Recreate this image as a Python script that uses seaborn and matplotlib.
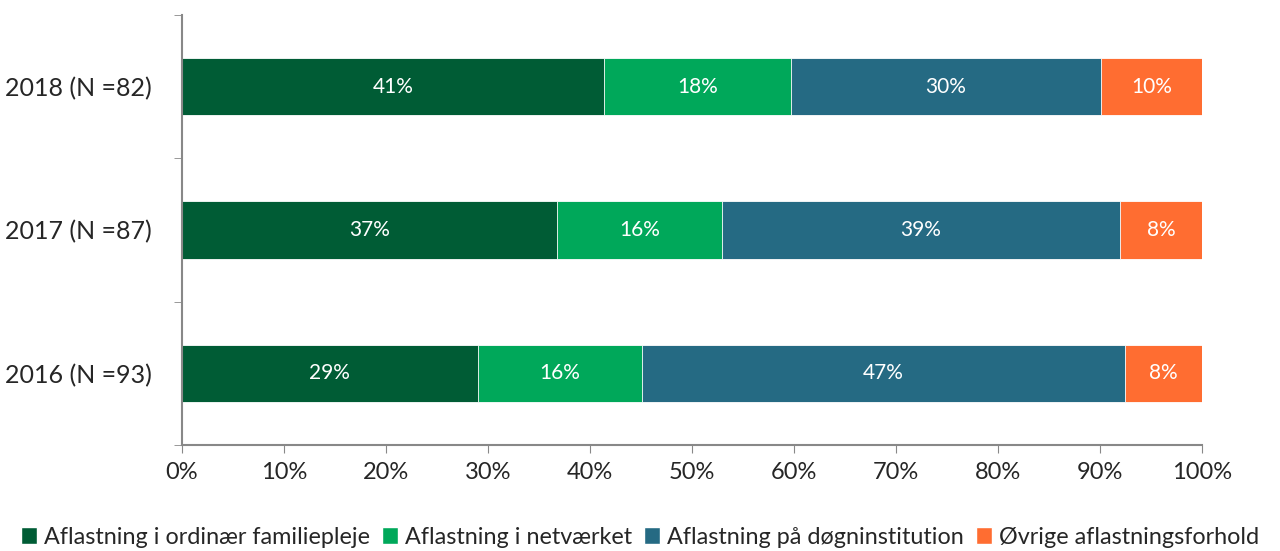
import numpy as np
import pandas as pd
import matplotlib
matplotlib.use('Agg')
import matplotlib.pyplot as plt
from matplotlib.patches import Patch
import seaborn as sns

# data (percent)
years = ['2018 (N =82)', '2017 (N =87)', '2016 (N =93)']
series = ['Aflastning i ordinær familiepleje', 'Aflastning i netværket',
          'Aflastning på døgninstitution', 'Øvrige aflastningsforhold']
familiepleje = [41.4, 36.8, 29.0]
netvaerket = [18.3, 16.1, 16.1]
doegninst = [30.4, 39.1, 47.3]
oevrige = [9.9, 8.0, 7.6]
colors = ['#005c35', '#00a85a', '#256a83', '#ff6d31']

sns.set_style('white')
plt.rcParams['font.family'] = ['Lato', 'DejaVu Sans']

df = pd.DataFrame({'year': years, series[0]: familiepleje, series[1]: netvaerket,
                   series[2]: doegninst, series[3]: oevrige})
vals = df[series].values
cum = vals.cumsum(axis=1)

fig = plt.figure(figsize=(12.8, 5.51), dpi=100)
ax = fig.add_axes([0.1422, 0.1924, 0.7969, 0.7804])

# stacked bars: draw cumulative totals, largest first
for i in range(len(series) - 1, -1, -1):
    sns.barplot(x=cum[:, i], y=years, order=years, color=colors[i], width=0.4,
                orient='h', ax=ax, saturation=1, edgecolor='white', linewidth=0.6)

# labels in segments
for r in range(len(years)):
    left = 0
    for i in range(len(series)):
        v = vals[r, i]
        ax.text(left + v / 2, r, f'{v:.0f}%', ha='center', va='center',
                color='white', fontsize=15)
        left += v

ax.set_xlim(0, 100)
ax.set_ylim(2.5, -0.5)
ax.set_xticks(np.arange(0, 101, 10))
ax.set_xticklabels([f'{t}%' for t in range(0, 101, 10)], fontsize=17)
ax.set_yticks(range(len(years)))
ax.set_yticklabels(years, fontsize=18)
ax.set_yticks([-0.5, 0.5, 1.5, 2.5], minor=True)
ax.tick_params(axis='y', which='major', length=0, pad=22)
ax.tick_params(axis='y', which='minor', length=6, color='#888888', direction='out', left=True)
ax.tick_params(axis='x', length=6, color='#888888', direction='out', bottom=True, pad=6)
ax.set_xlabel('')
ax.set_ylabel('')
for s in ['top', 'right']:
    ax.spines[s].set_visible(False)
for s in ['left', 'bottom']:
    ax.spines[s].set_color('#888888')
    ax.spines[s].set_linewidth(1.5)

handles = [Patch(facecolor=c, label=l) for c, l in zip(colors, series)]
fig.legend(handles=handles, loc='center', bbox_to_anchor=(0.5, 0.025), ncol=4,
           frameon=False, fontsize=16.8, handlelength=0.7, handleheight=0.7,
           handletextpad=0.3, columnspacing=0.5)

fig.savefig('out.png', dpi=100)
